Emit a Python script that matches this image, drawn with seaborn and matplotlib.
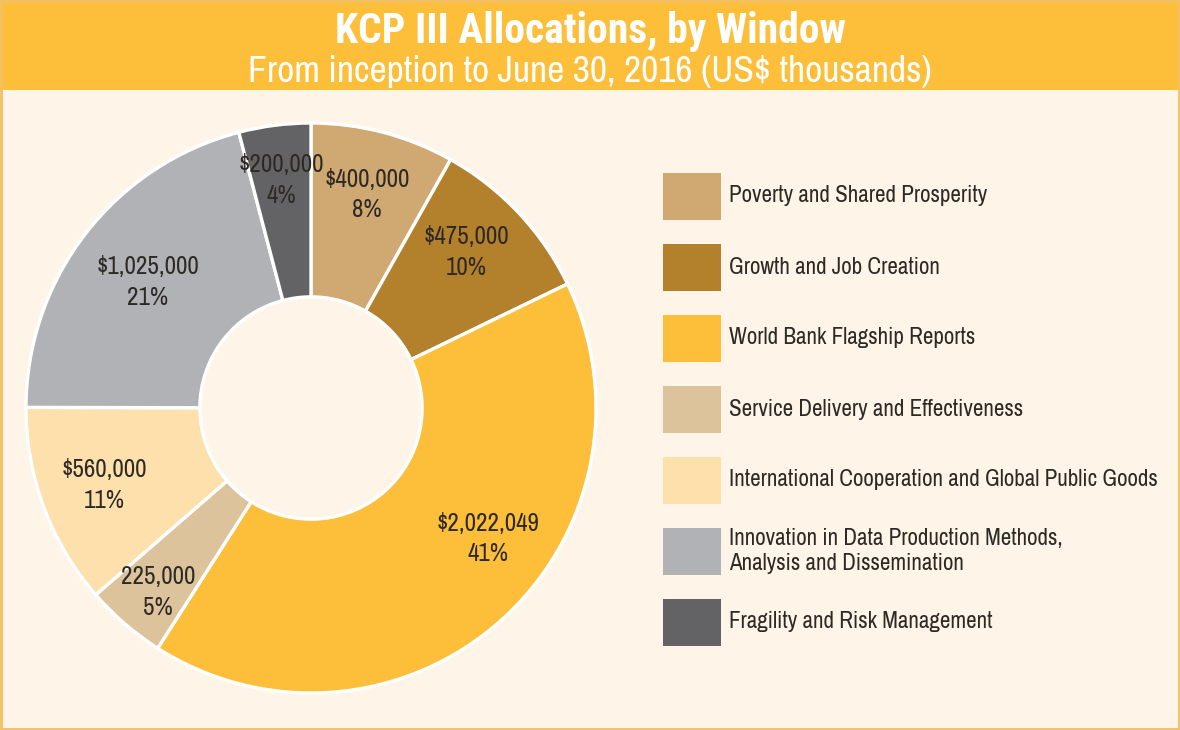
import matplotlib
matplotlib.use("Agg")
import numpy as np
import matplotlib.pyplot as plt
from matplotlib import font_manager
from matplotlib.patches import Rectangle
import seaborn as sns

# KCP III allocations by window (US$ thousands)
windows = [
    "Poverty and Shared Prosperity",
    "Growth and Job Creation",
    "World Bank Flagship Reports",
    "Service Delivery and Effectiveness",
    "International Cooperation and Global Public Goods",
    "Innovation in Data Production Methods,\nAnalysis and Dissemination",
    "Fragility and Risk Management",
]
amounts = [400000, 475000, 2022049, 225000, 560000, 1025000, 200000]
amount_labels = ["$400,000", "$475,000", "$2,022,049", "225,000",
                 "$560,000", "$1,025,000", "$200,000"]
colors = ["#CFA872", "#B3802C", "#FDBE3A", "#DCC39B",
          "#FDE0AC", "#B1B2B5", "#636366"]

# label placement inside each wedge: radial distance and angular nudge (deg)
label_dist = [0.775, 0.772, 0.772, 0.84, 0.775, 0.723, 0.807]
label_turn = [0, 2, 12, 1, 0, 0, 0]

sns.set_theme(style="white")

# pick narrow sans families that are installed
fonts = font_manager.fontManager.ttflist
installed = {f.name for f in fonts}
with_bold = {f.name for f in fonts if isinstance(f.weight, int) and f.weight >= 700}
preferred = ["Archivo Narrow", "Roboto Condensed", "Sofia Sans Condensed",
             "Barlow Condensed", "DejaVu Sans"]
family = next(f for f in preferred if f in installed)
title_family = next((f for f in preferred if f in with_bold), "DejaVu Sans")
plt.rcParams["font.family"] = [family, "DejaVu Sans"]

W, H = 1180, 730
BG = "#FEF5E8"
BAND = "#FDBE3A"
TEXT = "#2D2A26"


def fx(px):
    return px / W


def fy(py):
    return 1 - py / H


fig = plt.figure(figsize=(W / 100, H / 100), dpi=100, facecolor=BG)

# header band
fig.patches.append(Rectangle((0, fy(90)), 1, 90 / H, transform=fig.transFigure,
                             facecolor=BAND, edgecolor="none", zorder=0))
# thin frame around the panel
fig.patches.append(Rectangle((0.001, 0.002), 0.998, 0.996, transform=fig.transFigure,
                             facecolor="none", edgecolor="#F3C063", linewidth=2, zorder=5))

fig.text(0.5, fy(31), "KCP III Allocations, by Window", ha="center", va="center",
         fontsize=30, fontweight="bold", color="white",
         family=[title_family, "DejaVu Sans"])
fig.text(0.5, fy(71), "From inception to June 30, 2016 (US$ thousands)", ha="center",
         va="center", fontsize=27, color="white")

# donut chart
cx, cy, r = 311, 408, 285
ax = fig.add_axes([fx(cx - r), fy(cy + r), 2 * r / W, 2 * r / H])
ax.set_facecolor("none")
total = sum(amounts)
labels = [f"{a}\n{v / total * 100:.0f}%" for a, v in zip(amount_labels, amounts)]
wedges, texts = ax.pie(
    amounts, colors=colors, startangle=90, counterclock=False, radius=1,
    labels=labels, labeldistance=0.775,
    wedgeprops=dict(width=0.61, edgecolor="white", linewidth=2.4),
    textprops=dict(fontsize=18, color=TEXT, ha="center", va="center", linespacing=1.4),
)
for w, t, d, turn in zip(wedges, texts, label_dist, label_turn):
    w.set_clip_on(False)
    ang = np.deg2rad((w.theta1 + w.theta2) / 2 + turn)
    t.set_position((d * np.cos(ang), d * np.sin(ang)))
ax.set_xlim(-1, 1)
ax.set_ylim(-1, 1)
ax.set_aspect("equal")
ax.axis("off")

# legend: colour swatches with labels, one row per window
row0, pitch = 196, 71
sw_w, sw_h = 58, 47
for i, (name, c) in enumerate(zip(windows, colors)):
    yc = row0 + pitch * i
    fig.patches.append(Rectangle((fx(663), fy(yc + sw_h / 2)), sw_w / W, sw_h / H,
                                 transform=fig.transFigure, facecolor=c,
                                 edgecolor="none", zorder=2))
    fig.text(fx(729), fy(yc), name, ha="left", va="center", fontsize=16.6,
             color=TEXT, linespacing=1.2)

fig.savefig("out.png", dpi=100, facecolor=BG)
